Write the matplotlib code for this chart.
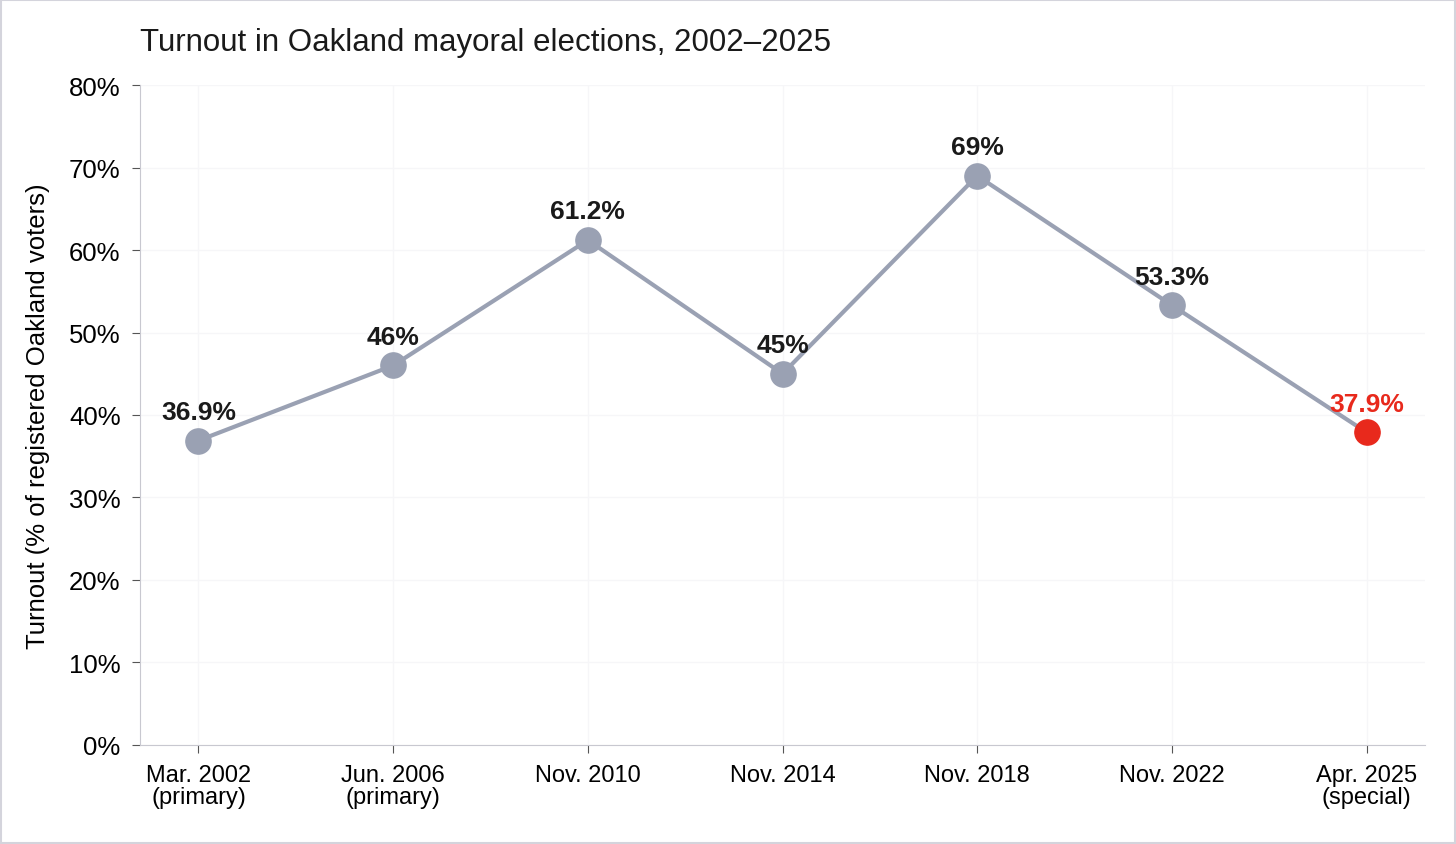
# Turnout in Oakland mayoral elections
import matplotlib.pyplot as plt
from matplotlib.patches import Rectangle

plt.rcParams['font.family'] = ['Liberation Sans', 'DejaVu Sans']

labels = ["Mar. 2002\n(primary)", "Jun. 2006\n(primary)", "Nov. 2010", "Nov. 2014",
          "Nov. 2018", "Nov. 2022", "Apr. 2025\n(special)"]
turnout = [36.9, 46, 61.2, 45, 69, 53.3, 37.9]
value_text = ["36.9%", "46%", "61.2%", "45%", "69%", "53.3%", "37.9%"]

gray = "#9aa1b3"
red = "#e8291c"

fig = plt.figure(figsize=(14.56, 8.45), dpi=100)
ax = fig.add_axes([0.0962, 0.1172, 0.8825, 0.781])
fig.patches.append(Rectangle((0.0008, 0.001), 0.9984, 0.998, transform=fig.transFigure,
                             fill=False, edgecolor="#d4d4dc", linewidth=1.5))

x = list(range(len(turnout)))
ax.plot(x, turnout, color=gray, linewidth=3, zorder=2)
ax.scatter(x[:-1], turnout[:-1], s=330, color=gray, zorder=3)
ax.scatter(x[-1:], turnout[-1:], s=330, color=red, zorder=3)
for i, (v, t) in enumerate(zip(turnout, value_text)):
    ax.annotate(t, (i, v), xytext=(0, 12), textcoords="offset points", ha="center",
                va="bottom", fontsize=19, fontweight="bold",
                color=red if i == len(turnout) - 1 else "#1a1a1a")

ax.set_xlim(-0.3, 6.3)
ax.set_ylim(0, 80)
ax.set_yticks(range(0, 81, 10))
ax.set_yticklabels([f"{v}%" for v in range(0, 81, 10)])
ax.set_xticks(x)
ax.set_xticklabels(labels, fontsize=17, linespacing=1.0)
ax.tick_params(axis="y", labelsize=18.5, pad=8)
ax.tick_params(axis="x", pad=8)
ax.tick_params(color="#555555", length=6)
ax.grid(True, color="#f6f6f8", linewidth=1)
ax.set_axisbelow(True)
for s in ["top", "right"]:
    ax.spines[s].set_visible(False)
for s in ["left", "bottom"]:
    ax.spines[s].set_color("#c8c8d0")
ax.set_ylabel("Turnout (% of registered Oakland voters)", fontsize=18.5, labelpad=14)
fig.text(0.0962, 0.949, "Turnout in Oakland mayoral elections, 2002\u20132025",
         fontsize=22.5, color="#1a1a1a", va="center")

fig.savefig("out.png", dpi=100)
